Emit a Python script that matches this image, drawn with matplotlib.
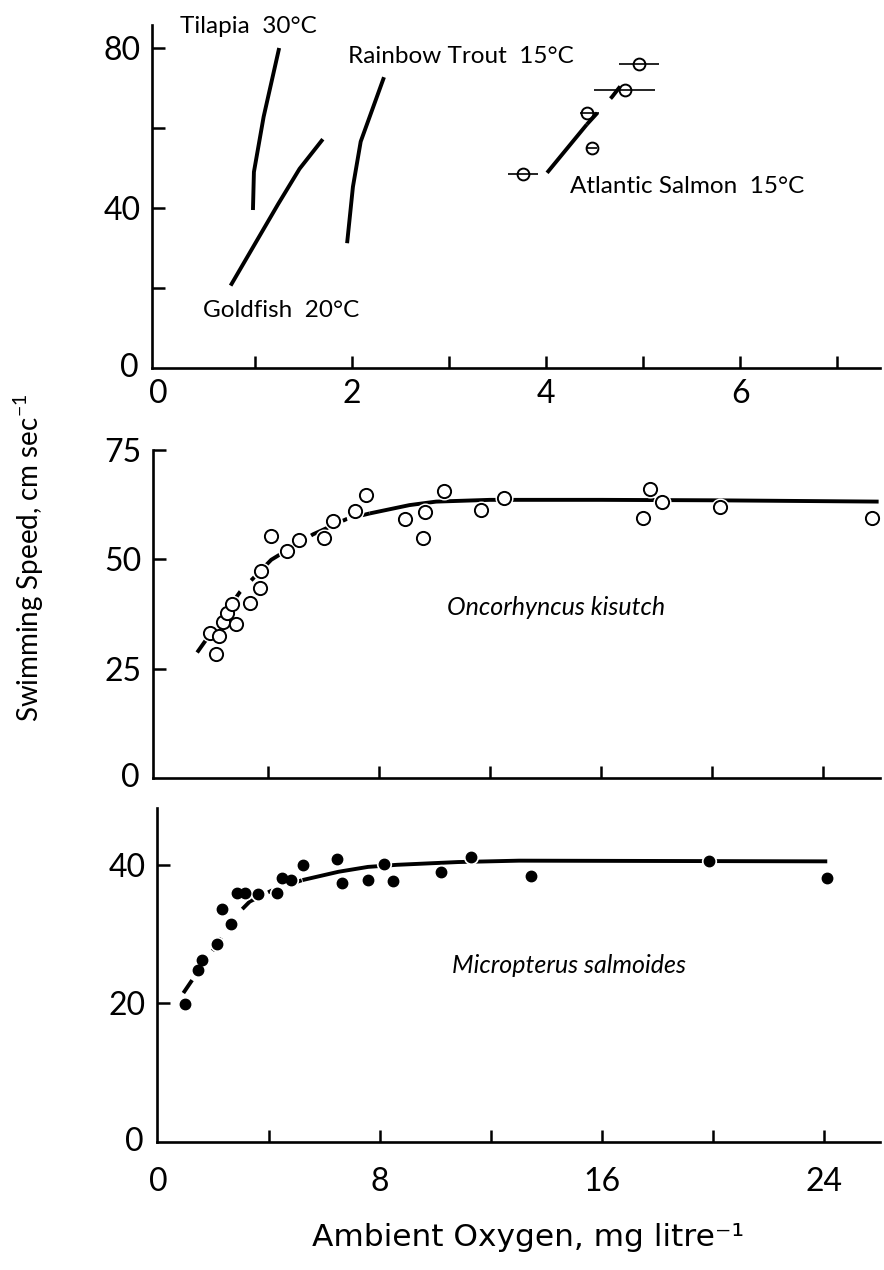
import matplotlib
matplotlib.use("Agg")
import matplotlib.pyplot as plt

plt.rcParams['font.family'] = ['Lato', 'DejaVu Sans']
plt.rcParams['mathtext.fontset'] = 'custom'
plt.rcParams['mathtext.rm'] = 'Lato'
plt.rcParams['mathtext.it'] = 'Lato:italic'

# ---- Panel A: critical swimming speed vs ambient oxygen (four species) ----
tilapia_x = [0.98, 0.99, 1.09, 1.25]
tilapia_y = [39.5, 49.0, 62.8, 80.0]
goldfish_x = [0.75, 1.24, 1.46, 1.70]
goldfish_y = [20.6, 41.0, 49.8, 57.2]
trout_x = [1.95, 2.01, 2.09, 2.33]
trout_y = [31.2, 45.3, 56.6, 72.7]
salmon_x = [3.76, 4.47, 4.42, 4.81, 4.96]
salmon_y = [48.5, 55.1, 63.7, 69.5, 76.0]
salmon_xlo = [3.61, 4.42, 4.35, 4.49, 4.75]
salmon_xhi = [3.92, 4.52, 4.54, 5.12, 5.16]
salmon_fit_solid_x = [4.01, 4.42]
salmon_fit_solid_y = [48.8, 60.9]
salmon_fit_dash_x = [4.42, 4.68, 4.87]
salmon_fit_dash_y = [60.9, 67.8, 73.7]

# ---- Panel B: Oncorhynchus kisutch ----
coho_x = [1.90, 2.23, 2.14, 2.38, 2.54, 2.71, 2.84, 3.36, 3.71, 3.75, 4.10,
          4.68, 5.12, 6.02, 6.34, 7.13, 7.53, 8.95, 9.65, 9.59, 10.33,
          11.68, 12.50, 17.75, 18.18, 17.51, 20.27, 25.76]
coho_y = [33.2, 32.5, 28.3, 35.6, 37.7, 39.7, 35.2, 40.0, 43.4, 47.4, 55.4,
          51.8, 54.4, 54.8, 58.8, 61.1, 64.7, 59.2, 60.8, 54.8, 65.7,
          61.2, 64.0, 66.0, 63.0, 59.4, 61.9, 59.4]
coho_fit_x = [1.45, 3.0, 4.12, 5.62, 6.83, 7.67, 9.1, 10.06, 12.0, 16.0, 20.0, 26.0]
coho_fit_y = [28.7, 42.6, 49.9, 55.7, 59.2, 60.5, 62.4, 63.2, 63.6, 63.6, 63.5, 63.2]

# ---- Panel C: Micropterus salmoides ----
bass_x = [0.97, 1.43, 1.57, 2.13, 2.29, 2.63, 2.83, 3.13, 3.61, 4.27, 4.45,
          4.77, 5.23, 6.45, 6.64, 7.56, 8.14, 8.46, 10.2, 11.26, 13.44,
          19.83, 24.09]
bass_y = [19.9, 24.8, 26.3, 28.6, 33.6, 31.5, 35.9, 35.9, 35.8, 35.9, 38.1,
          37.8, 40.0, 40.9, 37.4, 37.8, 40.1, 37.7, 39.0, 41.2, 38.4,
          40.5, 38.1]
bass_fit_x = [0.91, 1.4, 2.15, 2.83, 3.3, 4.2, 5.2, 6.5, 7.56, 8.6, 10.8, 13.0, 24.1]
bass_fit_y = [21.5, 24.4, 28.7, 32.8, 34.7, 36.5, 37.8, 39.0, 39.7, 40.0, 40.4, 40.6, 40.5]

W, H = 884, 1270
fig = plt.figure(figsize=(W / 100, H / 100), dpi=100)
fig.patch.set_facecolor('white')


def rect(left, right, top, bottom):
    return [left / W, 1 - bottom / H, (right - left) / W, (bottom - top) / H]


TICK_FS = 23
TEXT_FS = 17.5
ITAL_FS = 18
LW = 2.8


def style(ax):
    for s in ('top', 'right'):
        ax.spines[s].set_visible(False)
    for s in ('left', 'bottom'):
        ax.spines[s].set_linewidth(1.9)
    ax.tick_params(direction='in', length=9, width=1.8, labelsize=TICK_FS)
    ax.tick_params(axis='y', pad=8)


ax1 = fig.add_axes(rect(152, 880, 25, 368))
ax2 = fig.add_axes(rect(153, 880, 450, 778))
ax3 = fig.add_axes(rect(157, 880, 808, 1142))

# Panel A
for xs, ys in [(tilapia_x, tilapia_y), (goldfish_x, goldfish_y),
               (trout_x, trout_y), (salmon_fit_solid_x, salmon_fit_solid_y)]:
    ax1.plot(xs, ys, color='k', lw=LW, solid_capstyle='butt')
ax1.plot(salmon_fit_dash_x, salmon_fit_dash_y, color='k', lw=LW,
         dashes=(4, 5), solid_capstyle='butt')
xerr = [[c - lo for c, lo in zip(salmon_x, salmon_xlo)],
        [hi - c for c, hi in zip(salmon_x, salmon_xhi)]]
ax1.errorbar(salmon_x, salmon_y, xerr=xerr, fmt='o', ms=8.5, mfc='none',
             mec='k', mew=1.4, ecolor='k', elinewidth=1.2, capsize=0)
ax1.set_xlim(-0.06, 7.44)
ax1.set_ylim(0, 85.75)
ax1.set_xticks(range(1, 8))
ax1.set_xticklabels([])
ax1.set_yticks([20, 40, 60, 80])
ax1.set_yticklabels(['', '40', '', '80'])
style(ax1)
for v in [0, 2, 4, 6]:
    ax1.text(v, -0.032, str(v), transform=ax1.get_xaxis_transform(),
             ha='center', va='top', fontsize=TICK_FS)
ax1.text(-0.018, 0, '0', transform=ax1.get_yaxis_transform(),
         ha='right', va='center', fontsize=TICK_FS)

ax1.text(0.23, 83.7, 'Tilapia  30°C', fontsize=TEXT_FS, va='baseline')
ax1.text(1.96, 76.2, 'Rainbow Trout  15°C', fontsize=TEXT_FS, va='baseline')
ax1.text(4.25, 43.75, 'Atlantic Salmon  15°C', fontsize=TEXT_FS, va='baseline')
ax1.text(0.47, 12.8, 'Goldfish  20°C', fontsize=TEXT_FS, va='baseline')

# Panel B
early = [i for i, v in enumerate(coho_fit_x) if v <= 7.67]
late = [i for i, v in enumerate(coho_fit_x) if v >= 7.67]
ax2.plot([coho_fit_x[i] for i in early], [coho_fit_y[i] for i in early],
         color='k', lw=LW, dashes=(5, 4, 1.2, 4), solid_capstyle='butt')
ax2.plot([coho_fit_x[i] for i in late], [coho_fit_y[i] for i in late],
         color='k', lw=LW, solid_capstyle='butt')
ax2.plot(coho_x, coho_y, 'o', ms=13, mfc='white', mec='white', mew=0)
ax2.plot(coho_x, coho_y, 'o', ms=9.5, mfc='white', mec='k', mew=1.4)
ax2.set_xlim(-0.14, 26.05)
ax2.set_ylim(0, 75)
ax2.set_xticks([4, 8, 12, 16, 20, 24])
ax2.set_xticklabels([])
ax2.set_yticks([25, 50, 75])
style(ax2)
ax2.text(-0.018, 0, '0', transform=ax2.get_yaxis_transform(),
         ha='right', va='center', fontsize=TICK_FS)
ax2.text(10.45, 37.3, 'Oncorhyncus kisutch', fontsize=ITAL_FS,
         style='italic', va='baseline')

# Panel C
early = [i for i, v in enumerate(bass_fit_x) if v <= 5.2]
late = [i for i, v in enumerate(bass_fit_x) if v >= 5.2]
ax3.plot([bass_fit_x[i] for i in early], [bass_fit_y[i] for i in early],
         color='k', lw=LW, dashes=(4, 4, 1.2, 4), solid_capstyle='butt')
ax3.plot([bass_fit_x[i] for i in late], [bass_fit_y[i] for i in late],
         color='k', lw=LW, solid_capstyle='butt')
ax3.plot(bass_x, bass_y, 'o', ms=11, mfc='white', mec='white', mew=0)
ax3.plot(bass_x, bass_y, 'o', ms=7.5, mfc='k', mec='k')
ax3.set_xlim(-0.04, 26.0)
ax3.set_ylim(0, 48.2)
ax3.set_xticks([4, 8, 12, 16, 20, 24])
ax3.set_xticklabels([])
ax3.set_yticks([20, 40])
style(ax3)
for v in [0, 8, 16, 24]:
    ax3.text(v, -0.075, str(v), transform=ax3.get_xaxis_transform(),
             ha='center', va='top', fontsize=TICK_FS)
ax3.text(-0.018, 0, '0', transform=ax3.get_yaxis_transform(),
         ha='right', va='center', fontsize=TICK_FS)
ax3.text(10.58, 24.4, 'Micropterus salmoides', fontsize=ITAL_FS,
         style='italic', va='baseline')

# Shared axis titles
fig.text(29 / W, 1 - 558 / H, r'Swimming Speed, cm sec$^{-1}$', rotation=90,
         ha='center', va='center', fontsize=20)
fig.text(528 / W, 1 - 1238 / H, 'Ambient Oxygen, mg litre⁻¹',
         ha='center', va='center', fontsize=22.5, family='DejaVu Sans')

fig.savefig('out.png', dpi=100, facecolor='white')
